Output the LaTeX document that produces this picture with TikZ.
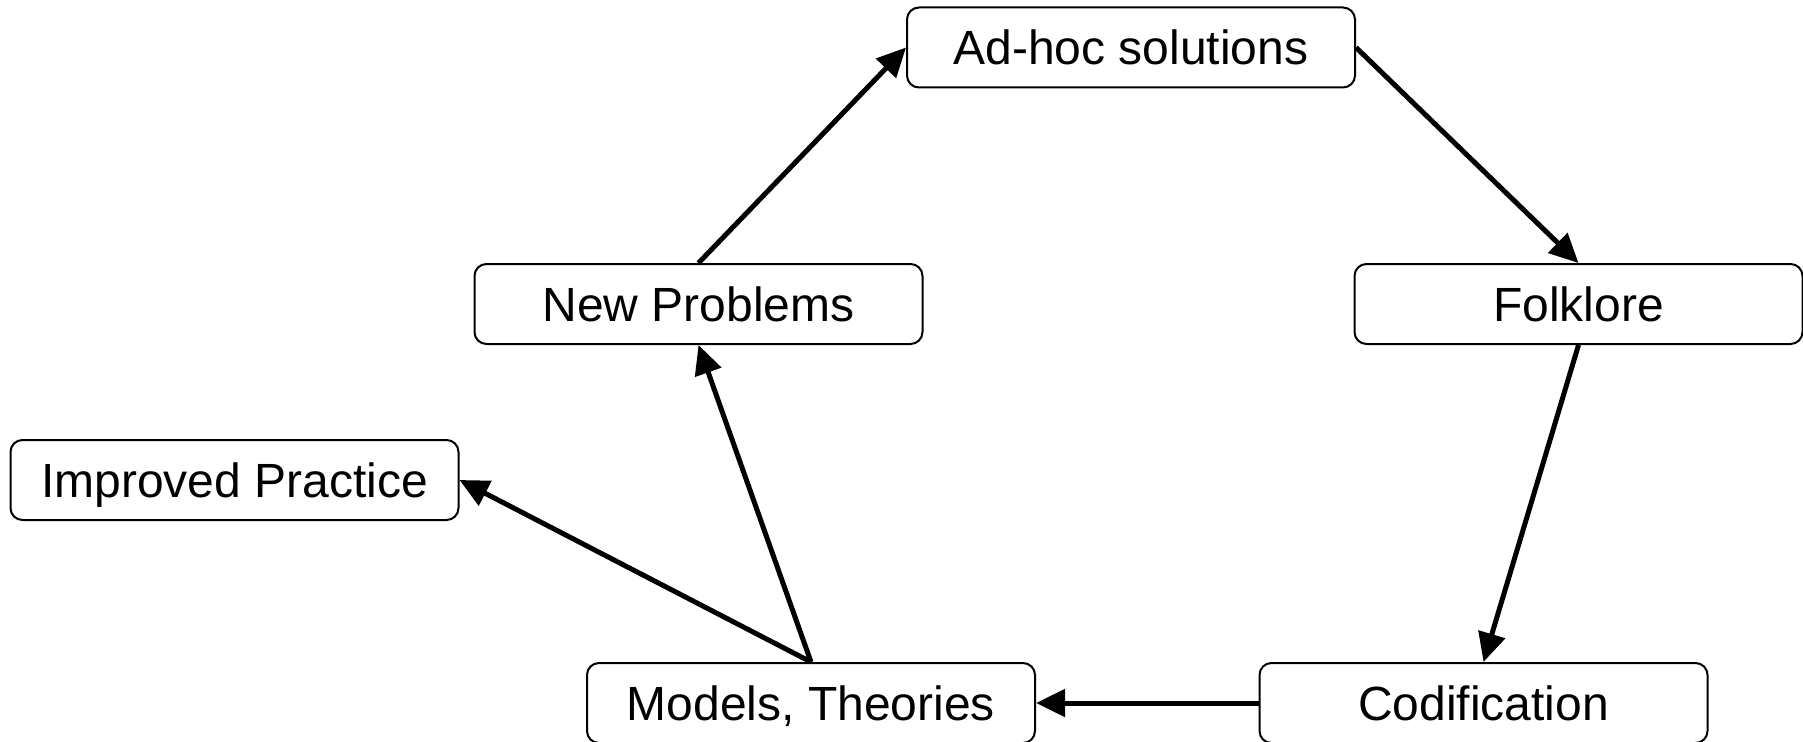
\documentclass[tikz,border=0pt]{standalone}
\usepackage{fontspec}
\setmainfont{Liberation Sans}
\usetikzlibrary{arrows.meta}
\begin{document}
\begin{tikzpicture}[x=1pt,y=-1pt,
  stagebox/.style={draw=black, line width=2pt, rounded corners=12pt, fill=white,
    minimum width=448pt, minimum height=80pt, inner sep=0pt,
    text height=34pt, text depth=0pt,
    font=\fontsize{48}{57}\selectfont},
  flow/.style={line width=5pt, -{Triangle[length=29pt,width=27pt]}}]
  \useasboundingbox[fill=white] (0,0) rectangle (1803,741);
  % stages of the cycle
  \node[stagebox] (adhoc)  at (1131,47.5) {Ad-hoc solutions};
  \node[stagebox] (folk)   at (1578.5,304) {Folklore};
  \node[stagebox] (codif)  at (1483.5,703) {Codification};
  \node[stagebox] (models) at (811,703) {Models, Theories};
  \node[stagebox] (newp)   at (698.5,304) {New Problems};
  \node[stagebox] (impr)   at (234.5,480) {Improved Practice};
  % connectors
  \draw[flow] (newp.north) -- (adhoc.west);
  \draw[flow] (adhoc.east) -- (folk.north);
  \draw[flow] (folk.south) -- (codif.north);
  \draw[flow] (codif.west) -- (models.east);
  \draw[flow] (models.north) -- (newp.south);
  \draw[flow] (models.north) -- (impr.east);
\end{tikzpicture}
\end{document}
